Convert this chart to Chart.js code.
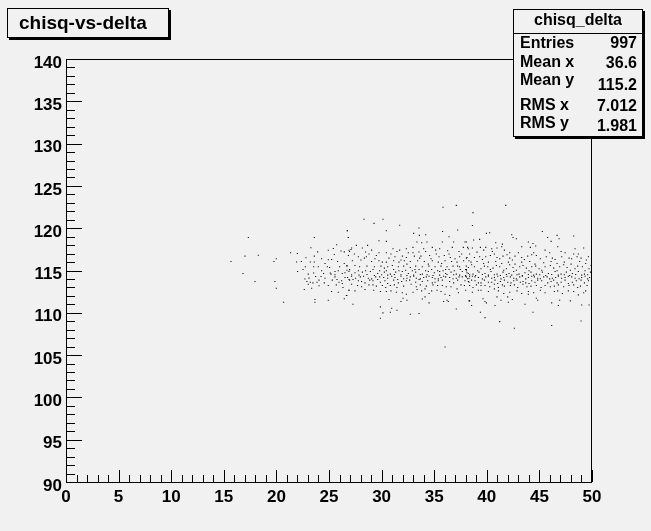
<!DOCTYPE html>
<html>
<head>
<meta charset="utf-8">
<script src="https://cdn.jsdelivr.net/npm/chart.js@4.4.1/dist/chart.umd.min.js"></script>
<style>
  html, body { margin: 0; padding: 0; background: #f1f1f1; }
  #wrap { width: 651px; height: 531px; position: relative; }
</style>
</head>
<body>
<div id="wrap"><canvas id="c" width="651" height="531"></canvas></div>
<script>
// ---- data ----
const chartTitle = 'chisq-vs-delta';
const histName = 'chisq_delta';
const statLabels = ['Entries', 'Mean x', 'Mean y', 'RMS x', 'RMS y'];
const statValues = ['997', '36.6', '115.2', '7.012', '1.981'];
const xTickValues = [0, 5, 10, 15, 20, 25, 30, 35, 40, 45, 50];
const yTickValues = [90, 95, 100, 105, 110, 115, 120, 125, 130, 135, 140];

const deltaValues = [
  17.33,23.6,26.83,26.74,17.01,18.28,15.68,19.99,19.77,21.35,21.99,22.81,23.28,23.6,22.37,21.92,23.22,23.6,23.92,24.3,24.93,25.41,25.73,25.25,24.93,25.5,26.14,26.45,26.9,25.82,26.45,26.7,26.96,22.75,23.54,24.84,25.06,22.02,23.54,24.49,25.12,25.57,25.88,26.26,16.82,25.19,
  17.96,19.86,19.99,20.69,22.71,23.1,22.9,23.22,23.47,23.73,24.24,24.05,24.55,23.03,24.05,22.65,23.35,23.66,23.66,24.93,25.25,25.31,25.76,25.95,26.2,26.26,25.69,25.88,26.45,26.7,26.9,26.9,
  35.84,37.1,28.33,30.13,29.28,31.72,26.74,30.45,33.55,35.8,37.23,26.84,33.05,34.19,33.59,36.41,29.75,30.45,33.36,33.81,34.31,35.77,36.85,37.93,27.6,28.67,27.15,28.17,26.96,28.48,29.05,31.08,31.72,32.35,32.98,34.82,35.52,36.72,37.77,29.75,30.45,32.54,33.55,34.19,35.14,36.28,37.36,38.24,
  26.84,27.79,28.55,29.5,30.7,31.27,31.97,32.35,33.11,33.74,34.57,35.46,35.96,36.53,37.42,38.12,
  27.22,28.04,29.05,29.75,30.45,31.15,31.65,32.16,32.73,33.43,34.06,34.82,35.39,36.03,36.66,37.17,37.8,
  26.71,27.47,27.91,28.61,29.31,29.94,30.58,31.02,31.59,32.1,32.73,33.24,33.87,34.5,35.08,35.65,36.22,36.79,37.42,38.05,
  26.9,27.47,28.17,28.93,29.63,30.26,30.83,31.34,31.97,32.54,33.24,33.87,34.44,35.01,35.52,36.09,36.6,37.1,37.67,38.24,
  27.15,27.98,28.74,29.44,30.2,30.96,31.53,32.1,32.73,33.3,34.0,34.51,35.08,35.65,36.09,36.79,37.36,37.99,38.18,
  26.96,27.79,28.42,29.18,29.88,30.58,31.59,32.35,33.24,33.87,34.82,35.39,36.85,37.55,38.31,
  27.72,28.8,29.5,30.07,30.83,31.46,32.8,33.68,34.25,34.13,34.76,35.33,36.15,37.17,
  26.9,28.42,29.88,30.45,30.89,31.97,32.35,32.99,33.81,35.27,36.03,36.47,38.31,
  26.65,30.7,32.03,32.41,33.87,34.13,35.9,36.22,36.34,34.51,31.84,
  27.28,29.88,30.96,30.13,30.83,31.46,32.73,33.56,37.1,29.88,36.03,
  41.8,38.69,38.63,39.96,40.27,45.28,42.37,42.49,42.81,45.79,46.68,48.26,46.87,38.06,38.75,39.32,40.85,41.48,43.95,44.39,46.11,
  38.18,38.63,39.39,39.9,40.47,40.97,41.42,43.32,44.14,44.65,46.74,48.39,49.21,
  39.71,40.53,41.67,42.18,44.46,45.54,47.44,48.26,
  38.06,38.82,39.32,39.9,40.34,40.97,41.54,42.18,42.68,43.32,43.89,44.71,45.66,46.23,47.12,47.82,48.58,48.96,49.66,
  38.5,39.07,39.7,40.15,40.85,41.42,42.05,42.68,43.32,44.08,44.58,45.41,46.11,46.68,47.37,48.01,48.83,49.4,
  38.25,38.82,39.45,40.09,40.59,41.23,41.86,42.49,43.13,43.76,44.27,44.97,45.54,46.36,46.93,47.63,48.39,49.09,49.72,
  38.12,38.69,39.26,39.83,40.4,40.97,41.54,42.11,42.56,43.06,43.63,44.2,44.71,45.28,45.85,46.49,47.06,47.56,48.13,48.7,49.28,49.85,
  38.06,38.63,39.2,39.9,40.47,41.04,41.61,42.24,42.81,43.38,43.95,44.52,45.09,45.73,46.23,46.8,47.44,48.07,48.77,49.34,49.78,
  38.25,38.88,39.45,40.15,40.78,41.29,41.99,42.56,43.19,43.7,44.27,44.84,46.11,46.68,47.44,48.13,48.96,49.66,
  38.37,39.01,39.83,40.72,41.1,41.67,42.24,42.94,43.44,44.2,45.54,46.04,46.8,48.26,48.9,
  39.2,39.45,40.72,41.1,42.18,43.32,43.95,43.95,45.54,46.42,46.74,47.75,49.21,49.4,
  39.64,40.97,41.99,42.43,38.37,39.83,39.96,41.35,42.05,44.71,44.84,46.93,47.94,38.56,40.78,43.63,46.17,46.8,49.02,49.72,
  39.39,44.39,39.83,41.23,42.62,46.17,48.96,
  27.09,27.41,28.36,28.8,29.37,30.07,30.26,30.89,31.46,31.84,32.41,32.98,33.17,33.62,34.0,34.44,34.7,35.2,35.71,36.09,36.41,36.98,37.23,37.61,37.99,38.31,
  26.71,27.79,28.48,29.18,29.82,30.45,31.15,31.65,32.29,32.92,33.56,34.19,34.76,35.33,35.84,36.41,36.91,37.48,38.06,
  27.15,27.85,28.61,29.31,30.01,30.58,31.21,31.84,32.41,33.05,33.68,34.32,34.89,35.52,36.22,36.85,37.42,37.99,
  26.77,27.53,28.29,29.06,29.82,30.58,31.27,31.84,32.41,33.05,33.68,34.25,34.82,35.39,35.9,36.47,37.1,37.67,38.37,
  27.28,28.1,28.87,29.63,30.32,31.15,31.91,32.67,33.56,34.38,35.08,35.77,36.47,37.23,37.93,
  27.15,28.1,29.18,30.39,31.21,32.1,33.3,34.89,35.77,36.6,37.87,
  27.47,29.25,31.4,33.37,34.51,35.65,37.3,37.99,
  38.37,39.07,39.58,40.72,41.23,41.92,42.43,43.0,43.57,44.27,45.09,45.98,46.49,47.06,48.07,48.7,49.47,
  38.06,38.56,39.13,39.77,40.34,40.91,41.61,42.18,42.81,43.44,44.01,44.65,45.22,46.04,46.68,47.31,47.94,48.64,49.34,49.91,
  38.37,38.94,39.58,40.15,40.72,41.29,41.86,42.37,42.87,43.38,43.95,44.46,45.03,45.6,46.17,46.8,47.37,47.88,48.45,49.02,49.59,
  38.31,38.88,39.58,40.15,40.72,41.35,41.92,42.56,43.13,43.7,44.27,44.84,45.41,45.98,46.55,47.12,47.75,48.39,49.02,49.59,
  38.56,39.2,39.77,40.47,41.04,41.67,42.3,42.87,43.44,44.01,44.58,45.22,45.79,46.36,47.06,47.75,48.51,49.28,
  38.69,39.45,40.28,41.48,42.62,43.82,44.71,45.16,46.42,47.31,47.82,48.64,49.53,
  38.63,40.15,41.61,42.87,44.46,45.09,47.18,48.26,48.7,
  23.98,24.62,26.01,24.3,25.57,26.52,23.03,22.53,24.62,25.57,26.52,23.86,24.93,26.33
];
const chisqValues = [
  118.91,118.9,118.9,119.7,116.7,116.8,116.07,116.39,116.07,117.1,117.0,116.5,117.7,116.7,116.07,116.0,116.0,116.0,117.2,116.39,117.4,117.6,118.05,116.3,116.27,116.9,117.3,117.2,117.4,116.07,115.83,115.6,115.1,115.44,115.44,115.44,115.36,114.88,114.7,114.65,114.7,114.88,114.96,114.65,114.65,114.57,
  113.7,113.7,112.91,111.25,114.0,114.1,113.7,113.6,113.54,114.3,114.3,113.86,113.54,113.38,113.2,112.75,112.91,111.57,111.25,111.49,112.51,113.86,113.94,113.62,113.78,113.46,113.3,112.44,111.65,112.04,112.67,113.94,
  122.47,122.7,121.05,121.05,120.57,120.34,119.7,119.7,120.02,119.62,119.78,118.91,119.39,119.23,119.15,118.99,118.52,118.44,118.36,118.28,118.36,118.36,118.36,118.36,117.97,117.97,117.65,117.65,117.25,117.18,117.41,117.57,117.41,117.57,117.73,117.73,117.57,117.73,117.73,117.1,117.1,117.1,117.18,117.25,117.41,117.33,117.25,117.57,
  116.78,116.62,116.62,116.78,116.46,116.62,116.7,116.54,116.7,116.7,116.78,116.62,116.78,116.54,116.62,116.54,
  116.15,116.23,116.07,116.15,115.99,116.15,115.99,116.15,116.07,116.15,116.07,116.15,115.99,116.15,116.07,115.99,116.15,
  115.52,115.6,115.44,115.52,115.44,115.52,115.44,115.6,115.44,115.52,115.36,115.52,115.44,115.52,115.44,115.52,115.44,115.52,115.44,115.52,
  114.88,114.73,114.81,114.88,114.65,114.81,114.57,114.81,114.88,114.65,114.81,114.57,114.88,114.73,114.88,114.65,114.81,114.57,114.88,114.65,
  114.33,114.25,114.09,114.25,114.17,114.33,113.94,114.02,114.25,114.09,114.17,114.33,114.02,114.17,114.25,114.02,114.25,114.33,114.02,
  113.86,113.78,113.54,113.78,113.62,113.46,113.54,113.78,113.62,113.7,113.54,113.78,113.54,113.3,113.62,
  113.22,113.3,113.15,113.22,113.22,112.99,113.38,113.3,113.15,112.83,112.59,113.22,113.07,112.83,
  112.67,112.75,112.51,112.51,112.59,112.36,112.2,112.44,112.59,112.67,112.2,112.04,111.41,
  112.04,111.57,111.72,111.49,111.64,111.88,111.33,111.49,111.33,111.17,111.33,
  111.01,110.7,110.54,109.99,110.06,110.3,109.83,109.91,110.46,109.35,105.96,
  122.7,121.84,120.33,119.39,119.47,119.62,119.23,118.91,118.76,118.91,119.15,119.07,118.76,118.36,118.6,118.68,118.28,118.12,118.36,118.2,118.44,
  117.73,117.65,117.73,117.73,117.57,117.65,117.81,117.81,117.73,117.89,117.81,117.57,117.65,
  117.41,117.25,117.41,117.1,117.1,117.41,117.1,116.94,
  116.46,116.54,116.62,116.62,116.78,116.54,116.7,116.46,116.7,116.54,116.7,116.78,116.62,116.46,116.62,116.46,116.62,116.46,116.62,
  115.99,116.07,115.83,115.99,116.07,115.83,115.99,115.75,115.99,116.07,115.75,115.91,116.07,115.83,115.99,115.75,116.07,115.83,
  115.36,115.44,115.2,115.44,115.28,115.44,115.2,115.36,115.44,115.28,115.44,115.2,115.44,115.28,115.44,115.36,115.2,115.44,115.2,
  114.73,114.57,114.81,114.65,114.88,114.57,114.81,114.65,114.88,114.57,114.73,114.81,114.57,114.81,114.65,114.88,114.57,114.81,114.65,114.88,114.57,114.81,
  114.25,114.33,114.17,114.25,114.09,114.33,114.17,114.25,114.02,114.33,114.17,114.25,114.02,114.25,114.09,114.33,114.17,114.25,114.02,114.33,114.17,
  113.7,113.78,113.54,113.62,113.86,113.7,113.62,113.78,113.62,113.54,113.78,113.86,113.7,113.54,113.86,113.62,113.86,113.78,
  113.22,113.3,113.22,113.38,112.99,113.15,113.22,112.99,113.38,113.15,113.22,113.07,113.3,113.3,113.15,
  112.67,112.67,112.83,112.59,112.44,112.28,112.51,112.2,112.36,112.51,112.59,112.59,112.36,112.59,
  111.65,111.88,111.88,111.57,111.41,111.33,111.17,111.49,111.25,111.72,111.49,111.49,111.41,110.86,110.86,111.01,111.17,110.86,110.93,110.93,
  110.07,110.07,109.43,108.96,108.17,108.49,109.04,
  117.49,116.94,116.46,116.94,116.39,115.99,115.28,116.94,117.25,116.23,115.75,117.1,115.12,116.46,117.57,115.75,116.39,116.94,115.83,115.12,116.94,116.39,115.52,116.94,115.12,116.15,
  115.04,114.96,114.96,115.12,114.96,114.96,115.12,114.96,115.04,114.96,115.12,114.96,115.12,114.96,114.96,115.12,114.96,115.12,114.96,
  114.49,114.45,114.52,114.41,114.49,114.45,114.52,114.49,114.41,114.45,114.52,114.49,114.41,114.45,114.52,114.49,114.45,114.41,
  114.17,114.09,114.33,114.01,114.25,114.09,114.17,114.33,114.09,114.33,114.01,114.25,114.17,114.01,114.33,114.17,114.09,114.25,114.33,
  113.94,113.7,113.86,113.94,113.78,113.86,113.7,113.86,113.94,113.78,113.62,113.86,113.7,113.86,113.78,
  113.38,113.07,113.3,112.99,113.3,113.15,113.07,113.3,113.22,113.07,113.22,
  112.59,112.67,112.44,112.75,112.28,112.51,112.36,112.67,
  116.94,117.17,116.31,116.94,116.39,116.86,116.23,117.1,116.31,116.86,116.39,117.1,116.31,117.25,116.39,116.94,116.23,
  115.12,115.67,114.96,115.52,115.12,115.6,115.04,115.67,115.04,115.6,114.96,115.52,115.04,115.6,114.96,115.67,115.04,115.52,114.96,115.6,
  114.49,114.41,114.52,114.45,114.49,114.41,114.52,114.45,114.49,114.41,114.52,114.45,114.49,114.41,114.52,114.45,114.49,114.41,114.52,114.45,114.49,
  114.09,114.25,114.01,114.33,114.17,114.01,114.33,114.09,114.25,114.01,114.33,114.09,114.25,114.01,114.17,114.09,114.33,114.09,114.17,114.01,
  113.86,113.54,113.86,113.62,113.46,113.86,113.54,113.86,113.7,113.46,113.62,113.78,113.54,113.86,113.62,113.46,113.78,113.54,
  112.99,113.22,113.07,113.3,113.3,113.07,113.22,112.99,113.15,113.07,113.22,112.99,113.22,
  112.44,112.51,112.28,112.59,112.36,112.67,112.28,112.51,112.12,
  115.44,115.83,115.44,114.96,114.49,114.73,114.57,115.12,114.09,114.25,114.17,113.62,113.22,112.99
];

// ---- drawing ----
const FONT = '"Liberation Sans", Arial, Helvetica, sans-serif';
const points = deltaValues.map((d, i) => ({ x: d, y: chisqValues[i] }));

const rootDecor = {
  id: 'rootDecor',
  beforeDraw(chart) {
    const { ctx, width, height } = chart;
    ctx.save();
    ctx.fillStyle = '#f1f1f1';
    ctx.fillRect(0, 0, width, height);
    ctx.restore();
  },
  afterDraw(chart) {
    const { ctx, chartArea: a, scales } = chart;
    const xs = scales.x, ys = scales.y;
    ctx.save();
    ctx.strokeStyle = '#000';
    ctx.lineWidth = 1;
    // frame
    ctx.strokeRect(Math.round(a.left) + 0.5, Math.round(a.top) + 0.5,
                   Math.round(a.right - a.left) - 1, Math.round(a.bottom - a.top));
    // y ticks (inside, from left axis)
    ctx.beginPath();
    for (let v = yTickValues[0]; v <= yTickValues[yTickValues.length - 1]; v += 1) {
      const py = Math.round(ys.getPixelForValue(v)) + 0.5;
      const len = (v % 5 === 0) ? 16 : 9;
      ctx.moveTo(a.left, py);
      ctx.lineTo(a.left + len, py);
    }
    // x ticks (inside, from bottom axis)
    for (let v = xTickValues[0]; v <= xTickValues[xTickValues.length - 1]; v += 1) {
      const px = Math.round(xs.getPixelForValue(v)) + 0.5;
      const len = (v % 5 === 0) ? 12 : 7;
      ctx.moveTo(px, a.bottom);
      ctx.lineTo(px, a.bottom - len);
    }
    ctx.stroke();

    // title box
    ctx.fillStyle = '#000';
    ctx.fillRect(9, 10, 162, 30);
    ctx.fillStyle = '#f1f1f1';
    ctx.fillRect(7, 8, 162, 30);
    ctx.strokeRect(7.5, 8.5, 161, 29);
    ctx.fillStyle = '#000';
    ctx.font = 'bold 19px ' + FONT;
    ctx.textBaseline = 'middle';
    ctx.textAlign = 'left';
    ctx.fillText(chartTitle, 19, 24);

    // stats box
    const bx = 513, by = 9, bw = 130, bh = 128;
    ctx.fillStyle = '#000';
    ctx.fillRect(bx + 2, by + 2, bw, bh);
    ctx.fillStyle = '#f1f1f1';
    ctx.fillRect(bx, by, bw, bh);
    ctx.strokeRect(bx + 0.5, by + 0.5, bw - 1, bh - 1);
    ctx.beginPath();
    ctx.moveTo(bx, 33.5);
    ctx.lineTo(bx + bw, 33.5);
    ctx.stroke();
    ctx.fillStyle = '#000';
    ctx.font = 'bold 16px ' + FONT;
    ctx.textAlign = 'center';
    ctx.fillText(histName, bx + bw / 2, 21);
    const labelY = [44, 63, 81, 106, 124];
    const valueY = [44, 64, 86, 107, 127];
    statLabels.forEach((s, i) => {
      ctx.textAlign = 'left';
      ctx.fillText(s, 520, labelY[i]);
      ctx.textAlign = 'right';
      ctx.fillText(statValues[i], 637, valueY[i]);
    });
    ctx.restore();
  }
};

new Chart(document.getElementById('c'), {
  type: 'scatter',
  data: {
    datasets: [{
      label: histName,
      data: points,
      pointStyle: 'rect',
      pointRadius: 0.75,
      pointBorderWidth: 0,
      pointBackgroundColor: '#000',
      pointHoverRadius: 0.75
    }]
  },
  options: {
    responsive: false,
    animation: false,
    events: [],
    layout: { padding: { left: 0, right: 59, top: 59, bottom: 0 } },
    plugins: { legend: { display: false }, tooltip: { enabled: false }, title: { display: false } },
    scales: {
      x: {
        type: 'linear', min: 0, max: 50,
        afterFit(s) { s.height = 49; },
        afterBuildTicks(s) { s.ticks = xTickValues.map(v => ({ value: v })); },
        grid: { display: false, drawTicks: false },
        border: { display: false },
        ticks: { color: '#000', font: { family: FONT, size: 17, weight: 'bold' }, padding: 5, maxRotation: 0, autoSkip: false }
      },
      y: {
        type: 'linear', min: 90, max: 140,
        afterFit(s) { s.width = 66; },
        afterBuildTicks(s) { s.ticks = yTickValues.map(v => ({ value: v })); },
        grid: { display: false, drawTicks: false },
        border: { display: false },
        ticks: { color: '#000', font: { family: FONT, size: 17, weight: 'bold' }, padding: 4, labelOffset: 4, autoSkip: false }
      }
    }
  },
  plugins: [rootDecor]
});
</script>
</body>
</html>
